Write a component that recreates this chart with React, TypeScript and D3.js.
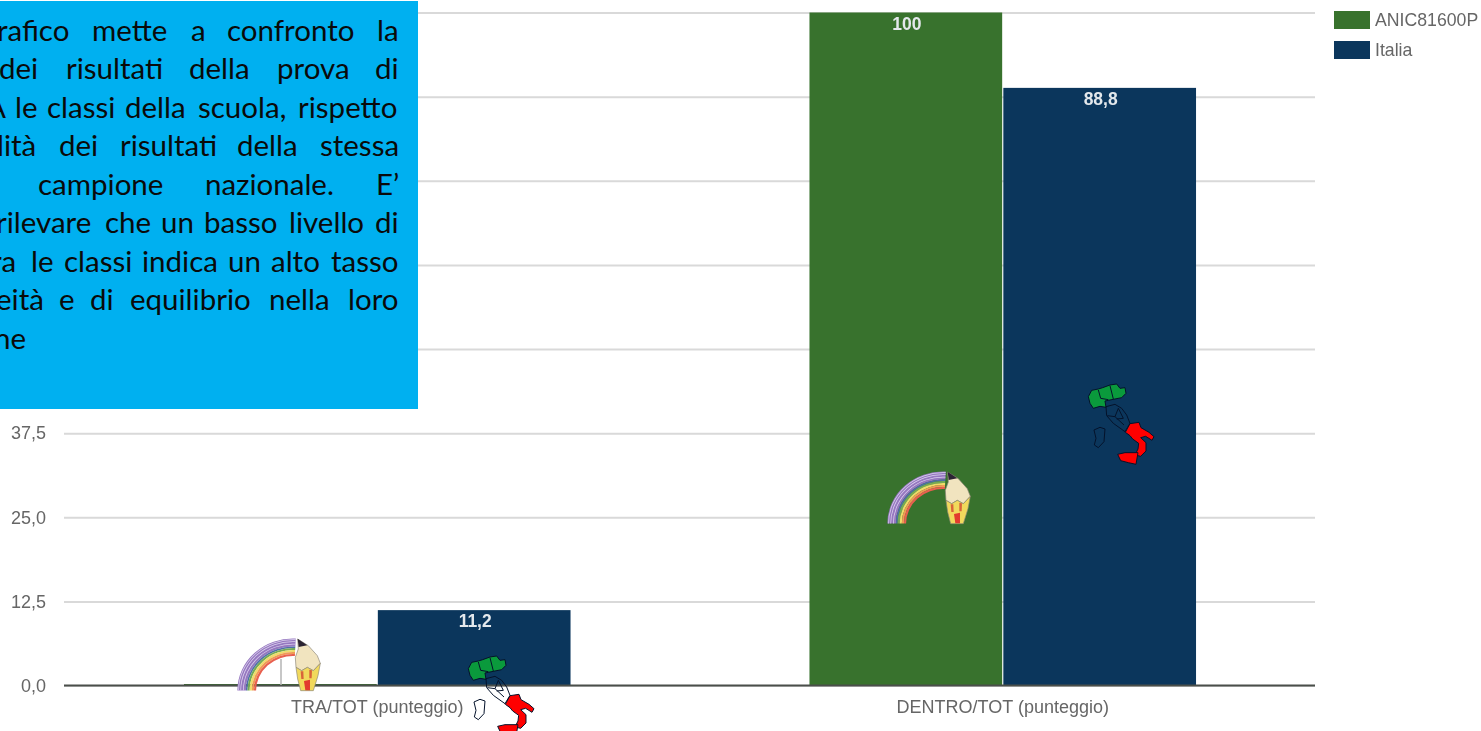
//@ts-nocheck
import * as d3 from "d3";
import { useEffect, useRef } from "react";

const categories = ["TRA/TOT (punteggio)", "DENTRO/TOT (punteggio)"];
const seriesNames = ["ANIC81600P", "Italia"];
const schoolValues = [0, 100];
const italyValues = [11.2, 88.8];
const yTicks = [0, 12.5, 25, 37.5, 50, 62.5, 75, 87.5, 100];
const seriesColors = ["#38722d", "#0b365c"];

// note box, cut off on the left like in the slide: [word, x] per line
const noteLines = [
  [["rafico", -3], ["mette", 92], ["a", 191], ["confronto", 227], ["la", 377]],
  [["dei", -1], ["risultati", 66], ["della", 189], ["prova", 277], ["di", 375]],
  [["A", -14], ["le", 15], ["classi", 47], ["della", 125], ["scuola,", 198], ["rispetto", 298]],
  [["lità", -3], ["dei", 59], ["risultati", 120], ["della", 237], ["stessa", 320]],
  [["campione", 38], ["nazionale.", 205], ["E’", 376]],
  [["rilevare", -4], ["che", 105], ["un", 161], ["basso", 204], ["livello", 289], ["di", 375]],
  [["ra", -9], ["le", 31], ["classi", 64], ["indica", 142], ["un", 228], ["alto", 271], ["tasso", 331]],
  [["eità", -4], ["e", 59], ["di", 90], ["equilibrio", 130], ["nella", 269], ["loro", 348]],
  [["ne", -6]],
];

const pts = (p) => d3.line().curve(d3.curveLinearClosed)(p);

function drawLogo(root, dx, dy) {
  const g = root.append("g").attr("transform", `translate(${943 + dx},${523.5 + dy}) scale(1.07,1)`);
  const bands = [
    [44, 52, "#9678c0"],
    [42.5, 44, "#4f6fa8"],
    [40.5, 42.5, "#74ab55"],
    [38.5, 40.5, "#eedc6a"],
    [36.5, 38.5, "#f09a55"],
    [34.5, 36.5, "#e8604f"],
  ];
  const arc = d3.arc().startAngle(-Math.PI / 2).endAngle(0.05);
  bands.forEach(([r0, r1, c]) => {
    g.append("path").attr("d", arc({ innerRadius: r0, outerRadius: r1 })).attr("fill", c);
  });
  [46, 48.5, 50.5].forEach((r) => {
    g.append("path").attr("d", arc({ innerRadius: r, outerRadius: r + 0.7 })).attr("fill", "#dcd2ee");
  });
  const p = root.append("g").attr("transform", `translate(${880 + dx},${462 + dy}) scale(0.3333)`);
  p.append("path").attr("d", pts([[203, 30], [235, 50], [262, 80], [271, 103], [250, 125], [232, 115], [215, 125], [198, 115], [196, 85], [205, 60]]))
    .attr("fill", "#f1e4bf").attr("stroke", "#8b8576").attr("stroke-width", 2);
  p.append("path").attr("d", pts([[203, 29], [232, 49], [206, 54]])).attr("fill", "#2b2433");
  p.append("path").attr("d", pts([[198, 115], [215, 125], [232, 115], [250, 125], [271, 103], [264, 140], [250, 185], [212, 185], [203, 150]]))
    .attr("fill", "#f1d95c").attr("stroke", "#8b8576").attr("stroke-width", 2);
  p.append("path").attr("d", pts([[212, 127], [220, 127], [221, 150], [214, 150]])).attr("fill", "#d8643a");
  p.append("path").attr("d", pts([[238, 122], [246, 124], [245, 148], [238, 148]])).attr("fill", "#d8643a");
  p.append("path").attr("d", pts([[222, 156], [240, 152], [240, 184], [226, 184]])).attr("fill", "#e23b2e");
}

// map of Italy, green / empty / red regions
function drawItaly(root, dx, dy) {
  const g = root.append("g").attr("transform", `translate(${1080 + dx},${375 + dy}) scale(0.3333)`)
    .attr("stroke", "#04122a").attr("stroke-width", 3).attr("stroke-linejoin", "round");
  g.append("path").attr("fill", "#0a9a3c").attr("d", pts([
    [25, 65], [35, 46], [55, 42], [68, 38], [90, 30], [110, 27], [120, 40], [135, 38], [138, 55], [125, 68],
    [105, 72], [85, 76], [75, 78], [78, 97], [60, 94], [40, 100], [30, 85],
  ]));
  g.append("path").attr("fill", "none").attr("d", "M55,45 L62,70 L85,74 M90,32 L100,72");
  g.append("path").attr("fill", "none").attr("d", pts([
    [78, 95], [80, 122], [100, 145], [135, 170], [150, 145], [140, 120], [125, 100], [105, 88],
  ]));
  g.append("path").attr("fill", "none").attr("d", "M82,122 L105,125 L115,100 M105,125 L132,150 M115,100 L130,130 L110,132");
  g.append("path").attr("fill", "#ff0000").attr("d", pts([
    [136, 172], [150, 146], [177, 142], [183, 158], [207, 172], [222, 185], [216, 196], [197, 184], [182, 188],
    [198, 203], [198, 228], [182, 244], [165, 240], [174, 222], [176, 205], [158, 192], [150, 182],
  ]));
  g.append("path").attr("fill", "#ff0000").attr("d", pts([
    [113, 238], [135, 233], [174, 233], [168, 268], [145, 263], [122, 257],
  ]));
  g.append("path").attr("fill", "none").attr("d", pts([
    [42, 165], [60, 157], [75, 162], [72, 200], [55, 218], [43, 210], [48, 190],
  ]));
}

export default function App() {
  const svgRef = useRef<SVGSVGElement>(null);

  useEffect(() => {
    const svg = d3.select(svgRef.current);
    svg.selectAll("*").remove();
    svg.append("defs").append("filter").attr("id", "soft")
      .append("feGaussianBlur").attr("stdDeviation", 0.7);

    const left = 64, right = 1315;
    const x0 = d3.scaleBand().domain(categories).range([left + 0.5, right + 0.5]).paddingInner(0.382).paddingOuter(0.191);
    const x1 = d3.scaleBand().domain(seriesNames).range([0, x0.bandwidth()]).paddingInner(0.006);
    const y = d3.scaleLinear().domain([0, 100]).range([685.5, 12.5]);

    // gridlines + y labels (labels above 37,5 sit under the note box)
    const fmt = (d) => (d > 37.5 ? "" : d3.format(".1f")(d).replace(".", ","));
    const yAxis = svg.append("g").attr("transform", `translate(${left},0)`)
      .call(d3.axisLeft(y).tickValues(yTicks).tickSize(-(right - left)).tickPadding(18).tickFormat(fmt));
    yAxis.select(".domain").remove();
    yAxis.selectAll("line").attr("stroke", "#d9d9d9").attr("stroke-width", 2);
    yAxis.selectAll("text").attr("font-family", "Liberation Sans").attr("font-size", 18)
      .attr("fill", "#666").attr("filter", "url(#soft)");

    // bars
    const series = [schoolValues, italyValues];
    seriesNames.forEach((name, s) => {
      categories.forEach((cat, i) => {
        const v = series[s][i];
        const bx = x0(cat) + x1(name);
        svg.append("rect").attr("x", bx).attr("y", y(v) - (v === 0 ? 1.5 : 0))
          .attr("width", x1.bandwidth()).attr("height", Math.max(y(0) - y(v), 1.5))
          .attr("fill", seriesColors[s]);
        if (v > 0) {
          svg.append("text").attr("x", bx + x1.bandwidth() / 2 + 1).attr("y", y(v) + 17)
            .attr("text-anchor", "middle").attr("font-family", "Liberation Sans")
            .attr("font-weight", "bold").attr("font-size", 17.5).attr("fill", "#e4e8ec")
            .attr("filter", "url(#soft)").text(String(v).replace(".", ","));
        }
      });
    });

    // baseline + category labels
    svg.append("line").attr("x1", left).attr("x2", right).attr("y1", y(0)).attr("y2", y(0))
      .attr("stroke", "#4a4f4a").attr("stroke-width", 1.8);
    categories.forEach((cat) => {
      svg.append("text").attr("x", x0(cat) + x0.bandwidth() / 2).attr("y", 713)
        .attr("text-anchor", "middle").attr("font-family", "Liberation Sans").attr("font-size", 18)
        .attr("fill", "#666").attr("filter", "url(#soft)").text(cat);
    });

    // legend
    seriesNames.forEach((name, s) => {
      const ly = 11 + s * 30;
      svg.append("rect").attr("x", 1334).attr("y", ly).attr("width", 36).attr("height", 18)
        .attr("fill", seriesColors[s]);
      svg.append("text").attr("x", 1375).attr("y", ly + 14.5).attr("font-family", "Liberation Sans")
        .attr("font-size", 17.7).attr("fill", "#666").attr("filter", "url(#soft)").text(name);
    });

    // stray mark left over in the slide
    svg.append("line").attr("x1", 281).attr("x2", 281).attr("y1", 659).attr("y2", 685)
      .attr("stroke", "#b5b5b5").attr("stroke-width", 1.5);

    drawLogo(svg, 0, 0);
    drawLogo(svg, -650, 167);
    drawItaly(svg, 0, 0);
    drawItaly(svg, -620, 272);

    // note box over the chart
    svg.append("rect").attr("x", 0).attr("y", 1).attr("width", 418).attr("height", 408).attr("fill", "#00b0f0");
    noteLines.forEach((words, l) => {
      words.forEach(([w, wx]) => {
        svg.append("text").attr("x", wx).attr("y", 41 + l * 38.45).attr("font-family", "Lato")
          .attr("font-size", 29.5).attr("fill", "#0a0a0a").text(w);
      });
    });
  }, []);

  return (
    <svg ref={svgRef} width={1481} height={731} style={{ position: "absolute", left: 0, top: 0, background: "#fff" }} />
  );
}
